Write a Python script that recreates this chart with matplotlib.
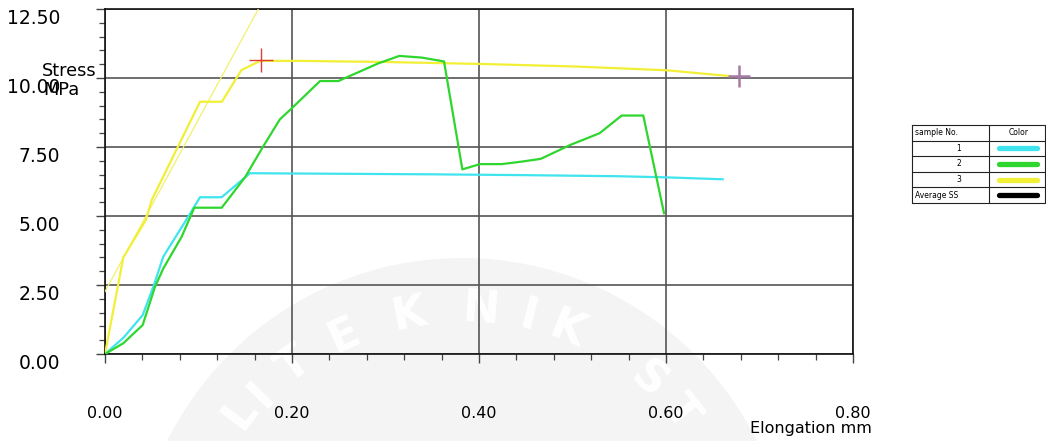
import numpy as np
import matplotlib
matplotlib.use("Agg")
import matplotlib.pyplot as plt
from matplotlib.patches import Circle
from matplotlib.ticker import MultipleLocator, FixedLocator
import matplotlib.transforms as mtransforms

# ---------------- data ----------------
x1 = [0, 0.02, 0.0403, 0.0517, 0.0624, 0.0856, 0.1016, 0.1248, 0.155, 0.25, 0.35, 0.45, 0.55, 0.6007, 0.6606]
y1 = [0, 0.6, 1.41, 2.44, 3.53, 4.79, 5.68, 5.68, 6.55, 6.53, 6.51, 6.48, 6.44, 6.40, 6.33]

x2 = [0, 0.0196, 0.0403, 0.0535, 0.0624, 0.082, 0.0955, 0.1248, 0.1497, 0.169, 0.187, 0.1997,
      0.23, 0.2496, 0.2923, 0.3148, 0.3387, 0.3626, 0.3822, 0.401, 0.4243, 0.4456, 0.466,
      0.4973, 0.529, 0.5526, 0.5757, 0.5979]
y2 = [0, 0.39, 1.05, 2.44, 3.1, 4.25, 5.3, 5.3, 6.4, 7.51, 8.5, 8.9,
      9.89, 9.89, 10.53, 10.8, 10.74, 10.6, 6.69, 6.88, 6.88, 6.97, 7.07,
      7.57, 8.0, 8.64, 8.64, 5.1]

x3 = [0, 0.0196, 0.0438, 0.05, 0.1016, 0.125, 0.146, 0.166, 0.2086, 0.30, 0.401, 0.50, 0.6007, 0.668]
y3 = [0, 3.5, 4.86, 5.58, 9.14, 9.14, 10.29, 10.62, 10.62, 10.58, 10.51, 10.42, 10.28, 10.07]

fit3_x = [0, 0.164]
fit3_y = [2.26, 12.5]

peak_x, peak_y = [0.167], [10.64]
break_x, break_y = [0.678], [10.07]

xticks = [0.0, 0.2, 0.4, 0.6, 0.8]
xtick_labels = ["0.00", "0.20", "0.40", "0.60", "0.80"]
yticks = [0.0, 2.5, 5.0, 7.5, 10.0, 12.5]
ytick_labels = ["0.00", "2.50", "5.00", "7.50", "10.00", "12.50"]

legend_rows = ["1", "2", "3", "Average SS"]

c_cyan = "#3fe4ee"
c_green = "#2ed62e"
c_yellow = "#f1ef36"
c_black = "#000000"
legend_colors = [c_cyan, c_green, c_yellow, c_black]

W, H = 1046, 441
fig = plt.figure(figsize=(W / 100, H / 100), dpi=100)
fig.patch.set_facecolor("white")

# ---------------- watermark (background) ----------------
bg = fig.add_axes([0, 0, 1, 1], zorder=-5)
bg.set_xlim(0, W)
bg.set_ylim(H, 0)
bg.axis("off")
bg.add_patch(Circle((462, 587), 329, facecolor="#f4f4f4", edgecolor="none"))
letters = [("L", 143), ("I", 136), ("T", 127), ("E", 115), ("K", 101),
           ("N", 86), ("I", 76), ("K", 67.6), ("S", 48), ("T", 38)]
for ch, ang in letters:
    a = np.deg2rad(ang)
    px = 462 + 278 * np.cos(a)
    py = min(587 - 278 * np.sin(a), 412)
    bg.text(px, py, ch, fontsize=32, fontweight="bold", color="white",
            rotation=ang - 90, ha="center", va="center", rotation_mode="anchor")

# ---------------- main axes ----------------
L, R, T, B = 105, 853, 9, 354
ax = fig.add_axes([L / W, (H - B) / H, (R - L) / W, (B - T) / H])
ax.set_facecolor("none")

ax.plot(fit3_x, fit3_y, color="#f2f06a", lw=0.9, zorder=3)
ax.plot(x1, y1, color=c_cyan, lw=1.6, zorder=4)
ax.plot(x3, y3, color=c_yellow, lw=1.6, zorder=4)
ax.plot(x2, y2, color=c_green, lw=1.6, zorder=5)
ax.plot(peak_x, peak_y, marker="+", color="#e03a3a", markersize=17, mew=1.0, ls="none", zorder=6)
ax.plot(break_x, break_y, marker="+", color="#a67aa6", markersize=16, mew=1.8, ls="none", zorder=6)

ax.set_xlim(0, 0.8)
ax.set_ylim(0, 12.5)
ax.xaxis.set_major_locator(FixedLocator(xticks))
ax.yaxis.set_major_locator(FixedLocator(yticks))
ax.xaxis.set_minor_locator(MultipleLocator(0.04))
ax.yaxis.set_minor_locator(MultipleLocator(0.5))
ax.set_xticklabels(xtick_labels, fontsize=11.5, family="DejaVu Sans")
ax.set_yticklabels(ytick_labels, fontsize=13.5, family="DejaVu Sans")

ax.tick_params(axis="x", which="major", length=6.3, width=1.0, color="#444444", pad=31)
ax.tick_params(axis="y", which="major", length=6.3, width=1.0, color="#444444", pad=26)
ax.tick_params(which="minor", length=4, width=0.9, color="#444444")

ax.grid(True, which="major", color="#555555", lw=1.2)
for s in ax.spines.values():
    s.set_color("#111111")
    s.set_linewidth(1.2)

# shift y tick labels down a little
off = mtransforms.ScaledTranslation(0, -7.5 / 100, fig.dpi_scale_trans)
for lbl in ax.get_yticklabels():
    lbl.set_transform(lbl.get_transform() + off)

# axis titles
fig.text(42 / W, 1 - 71 / H, "Stress", fontsize=12.8, ha="left", va="center")
fig.text(43 / W, 1 - 90 / H, "MPa", fontsize=12.8, ha="left", va="center")
fig.text(872 / W, 1 - 428 / H, "Elongation mm", fontsize=11.5, ha="right", va="center")

# ---------------- legend table ----------------
tl, tr, tt, tb = 912, 1045, 125, 203
tax = fig.add_axes([tl / W, (H - tb) / H, (tr - tl) / W, (tb - tt) / H])
tax.set_xlim(tl, tr)
tax.set_ylim(tb, tt)
tax.axis("off")
nrows = 5
rh = (tb - tt) / nrows
colx = 989
lc = "#222222"
tax.plot([tl, tr, tr, tl, tl], [tt, tt, tb, tb, tt], color=lc, lw=0.8, clip_on=False)
tax.plot([colx, colx], [tt, tb], color=lc, lw=0.8)
for i in range(1, nrows):
    tax.plot([tl, tr], [tt + i * rh, tt + i * rh], color=lc, lw=0.8)
tax.text(tl + 3, tt + rh / 2, "sample No.", fontsize=5.5, ha="left", va="center")
tax.text((colx + tr) / 2 + 2, tt + rh / 2, "Color", fontsize=5.5, ha="center", va="center")
for i, (lab, col) in enumerate(zip(legend_rows, legend_colors)):
    yc = tt + (i + 1.5) * rh
    if lab.isdigit():
        tax.text(961, yc, lab, fontsize=5.5, ha="right", va="center")
    else:
        tax.text(tl + 3, yc, lab, fontsize=5.5, ha="left", va="center")
    tax.plot([999, 1037], [yc, yc], color=col, lw=3.8, solid_capstyle="round")

fig.savefig("out.png", dpi=100)
